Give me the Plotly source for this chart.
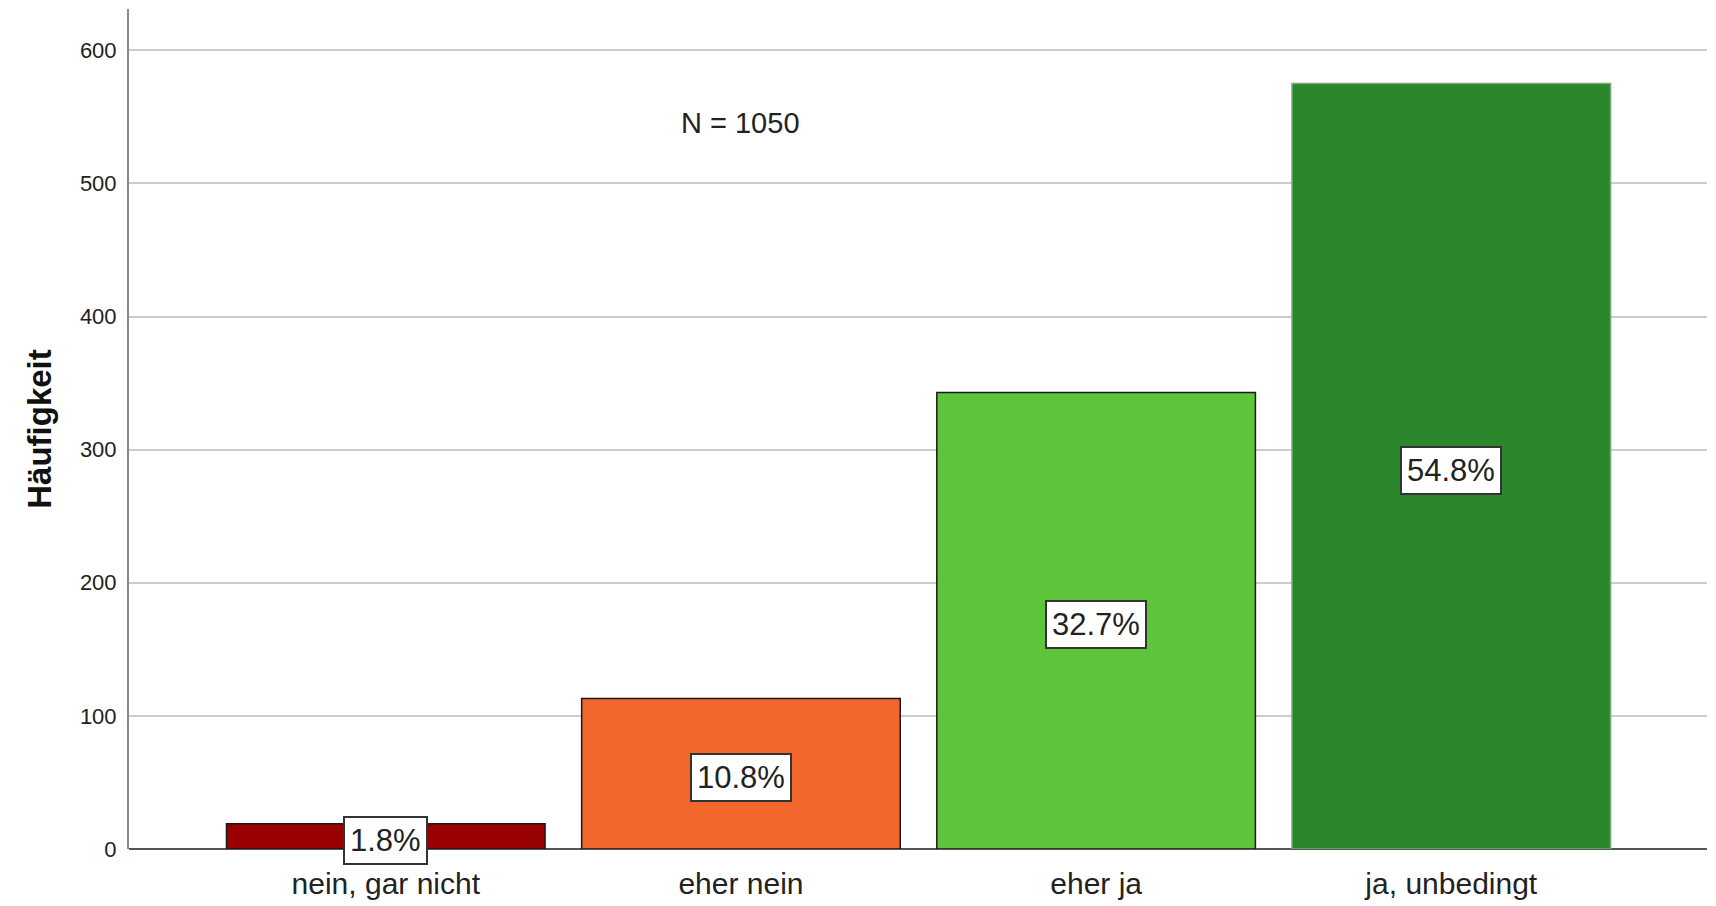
import plotly.graph_objects as go

categories = ["nein, gar nicht", "eher nein", "eher ja", "ja, unbedingt"]
counts = [19, 113, 343, 575]
percent_labels = ["1.8%", "10.8%", "32.7%", "54.8%"]
bar_colors = ["#990000", "#F2672B", "#5EC43A", "#2A872B"]
edge_colors = ["#1a1a1a", "#1a1a1a", "#1a1a1a", "#7aa87a"]
y_ticks = [0, 100, 200, 300, 400, 500, 600]
n_total = 1050

FONT = "Liberation Sans, Arial, sans-serif"

fig = go.Figure()
fig.add_trace(go.Bar(
    x=list(range(len(categories))),
    y=counts,
    marker=dict(color=bar_colors, line=dict(color=edge_colors, width=1.5)),
    hoverinfo="skip",
))

for i, (c, p) in enumerate(zip(counts, percent_labels)):
    fig.add_annotation(
        x=i, y=c / 2, xref="x", yref="y", text=p, showarrow=False, yshift=-4,
        font=dict(family=FONT, size=31, color="#222222"),
        bgcolor="white", bordercolor="#333333", borderwidth=2, borderpad=5,
    )

fig.add_annotation(
    x=1, y=545, xref="x", yref="y", text=f"N = {n_total}", showarrow=False,
    font=dict(family=FONT, size=29, color="#222222"),
)

fig.update_layout(
    width=1716, height=906,
    margin=dict(l=129, r=9, t=9, b=57),
    paper_bgcolor="white", plot_bgcolor="white",
    bargap=0.103, showlegend=False,
    font=dict(family=FONT, color="#222222"),
)
fig.update_xaxes(
    range=[-0.723, 3.72], automargin=False,
    tickmode="array", tickvals=list(range(len(categories))), ticktext=categories,
    tickfont=dict(family=FONT, size=30, color="#222222"),
    showgrid=False, zeroline=False, showline=False, ticks="",
    ticklabelstandoff=14,
)
fig.update_yaxes(
    range=[0, 631], automargin=False,
    tickmode="array", tickvals=y_ticks,
    tickfont=dict(family=FONT, size=22, color="#222222"),
    showgrid=True, gridcolor="#cccccc", gridwidth=2,
    zeroline=True, zerolinecolor="#555555", zerolinewidth=2,
    showline=True, linecolor="#888888", linewidth=2,
    ticks="", ticklabelstandoff=6,
    title=dict(text="<b>Häufigkeit</b>", font=dict(family=FONT, size=33, color="#111111"), standoff=18),
)

fig.write_html("out.html")
